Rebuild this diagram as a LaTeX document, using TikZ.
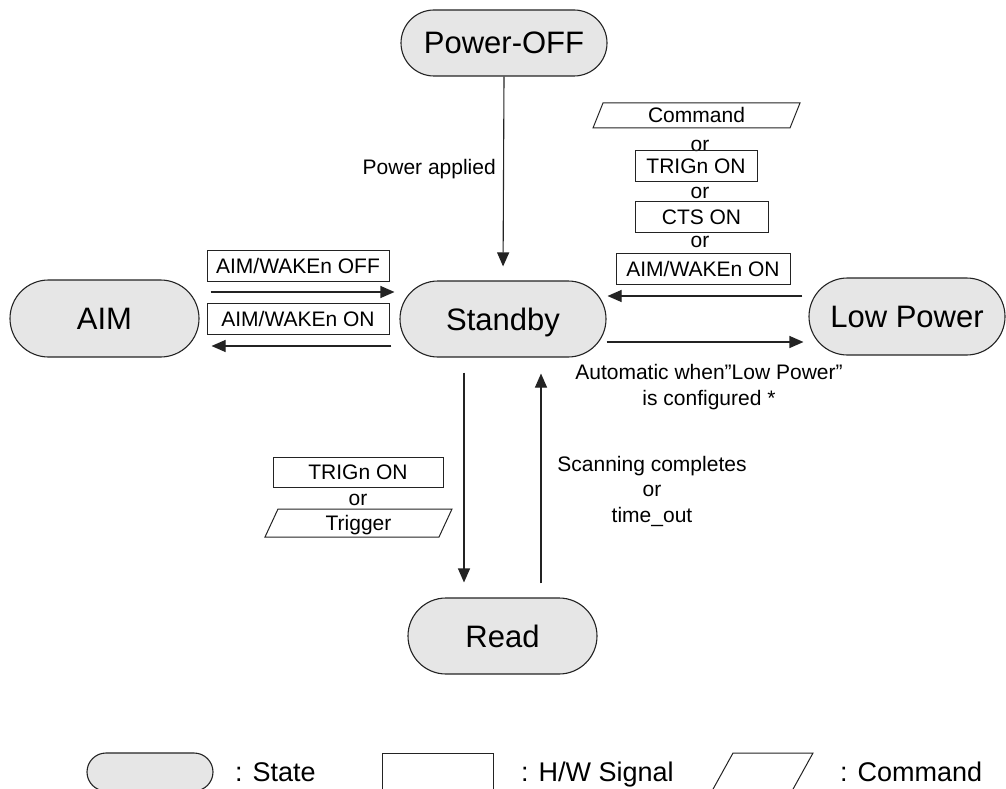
\documentclass[tikz,border=0pt]{standalone}
\usepackage{fontspec}
\setmainfont{Liberation Sans}
\usetikzlibrary{shapes.misc,arrows.meta,calc}
\definecolor{stfill}{RGB}{230,230,230}
\definecolor{ln}{RGB}{35,35,35}
\tikzset{
  state/.style={rounded rectangle, draw=ln, line width=1.1pt, fill=stfill,
    font=\fontsize{31}{36}\selectfont, inner sep=0pt, text height=22pt, text depth=0pt},
  sig/.style={draw=ln, line width=1pt, font=\fontsize{21}{25}\selectfont,
    inner sep=0pt, text height=15pt, text depth=0pt},
  lbl/.style={font=\fontsize{21}{25}\selectfont, inner sep=0pt, text height=15pt, text depth=0pt},
  mlbl/.style={font=\fontsize{21}{25.5}\selectfont, inner sep=0pt, align=center},
  paraline/.style={draw=ln, line width=1pt},
  arr/.style={draw=ln, line width=1.1pt, -{Triangle[length=14pt,width=12pt]}},
  legtxt/.style={font=\fontsize{27}{32}\selectfont, inner sep=0pt, anchor=west,
    text height=19pt, text depth=0pt},
}
% name, cx, cy, w, h, slant, text
\newcommand\mkpara[7]{%
  \draw[paraline] (#2-#4/2-#6/2, #3+#5/2) -- (#2-#4/2+#6/2, #3-#5/2)
     -- (#2+#4/2+#6/2, #3-#5/2) -- (#2+#4/2-#6/2, #3+#5/2) -- cycle;
  \node[lbl] (#1) at (#2,#3) {#7};%
}
\begin{document}
\begin{tikzpicture}[x=1pt,y=-1pt]
\useasboundingbox (0,0) rectangle (1006,789);
\clip (0,0) rectangle (1006,789);

% states
\node[state, minimum width=206pt, minimum height=66pt] (poff) at (504,43) {Power-OFF};
\node[state, minimum width=206pt, minimum height=76pt] (stby) at (503,319) {Standby};
\node[state, minimum width=189pt, minimum height=77pt] (aim) at (104.5,318.5) {AIM};
\node[state, minimum width=196pt, minimum height=77pt] (lp) at (907,316.5) {Low Power};
\node[state, minimum width=189pt, minimum height=76pt] (read) at (502.5,636) {Read};

% Power-OFF -> Standby
\draw[arr, shorten >=14pt] (poff.south) -- (stby.north);
\node[lbl, anchor=east] (papp) at (496,167) {Power applied};

% AIM <-> Standby
\node[sig, minimum width=182pt, minimum height=31pt] (awoff) at (298,265.5) {AIM/WAKEn OFF};
\node[sig, minimum width=182pt, minimum height=31pt] (awon1) at (298,318.5) {AIM/WAKEn ON};
\draw[arr] ($(aim.east)+(11,-26.5)$) -- ($(stby.west)+(-5,-27)$);
\draw[arr] ($(stby.west)+(-8,27)$) -- ($(aim.east)+(12,27.5)$);

% Low Power <-> Standby
\mkpara{cmd1}{696.5}{115.5}{197}{25}{10}{Command}
\node[lbl] (or1) at (700,144) {or};
\node[sig, minimum width=122pt, minimum height=31pt] (trig1) at (696,165.5) {TRIGn ON};
\node[lbl] (or2) at (700,191) {or};
\node[sig, minimum width=133pt, minimum height=31pt] (cts) at (701.5,216.5) {CTS ON};
\node[lbl] (or3) at (700,240) {or};
\node[sig, minimum width=174pt, minimum height=31pt] (awon2) at (703,268.5) {AIM/WAKEn ON};
\draw[arr] ($(lp.west)+(-6,-20.5)$) -- ($(stby.east)+(1,-23)$);
\draw[arr] ($(stby.east)+(0,23)$) -- ($(lp.west)+(-5,25.5)$);
\node[mlbl] (auto) at (709,387) {Automatic when”Low Power”\\is configured *};

% Standby <-> Read
\draw[arr] ($(stby.south)+(-39,15)$) -- ($(read.north)+(-38.5,-15)$);
\draw[arr] ($(read.north)+(38.5,-14)$) -- ($(stby.south)+(38,16)$);
\node[sig, minimum width=170pt, minimum height=30pt] (trig2) at (358,472) {TRIGn ON};
\node[lbl] (or4) at (358,498) {or};
\mkpara{trg}{358.5}{523}{174}{28}{13}{Trigger}
\node[mlbl] (scan) at (652,491) {Scanning completes\\or\\time\_out};

% legend
\node[state, minimum width=126pt, minimum height=38pt] (lgst) at (150,772) {};
\node[legtxt] (lgstt) at (235,772) {: State};
\node[sig, minimum width=111pt, minimum height=50pt] (lghw) at (437.5,778) {};
\node[legtxt] (lghwt) at (521,772) {: H/W Signal};
\mkpara{lgcm}{762.5}{772}{80}{38}{21}{}
\node[legtxt] (lgcmt) at (840,772) {: Command};
\end{tikzpicture}
\end{document}
